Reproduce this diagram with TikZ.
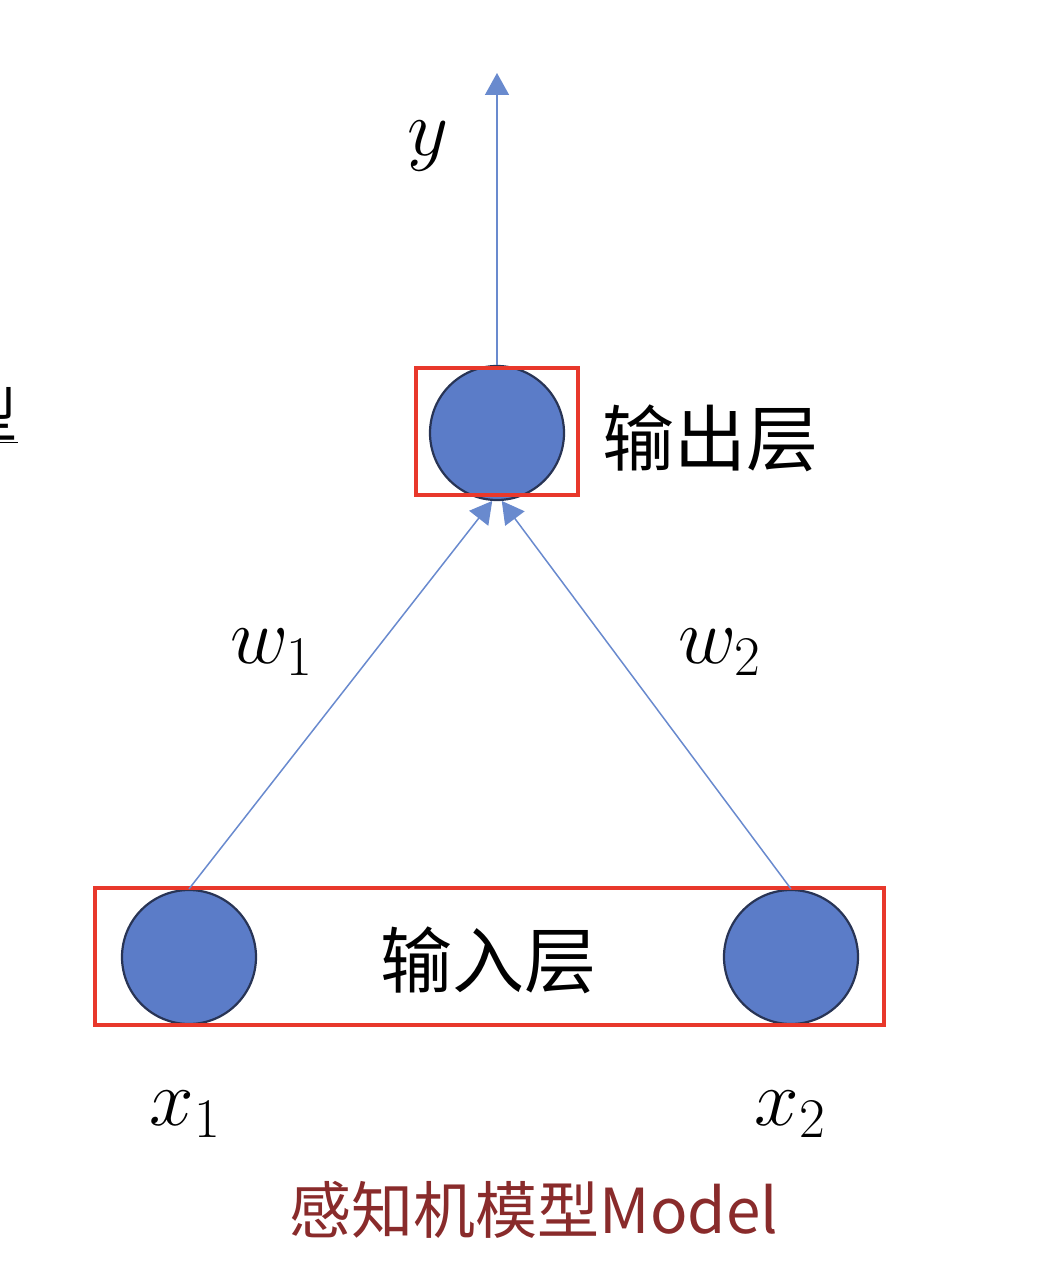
\RequirePackage{fix-cm}
\documentclass[tikz,border=0pt]{standalone}
\usepackage{fontspec}
\newfontfamily\cjk{Noto Sans CJK SC}
\usetikzlibrary{arrows.meta}
\definecolor{nodeblue}{RGB}{91,124,200}
\definecolor{nodeedge}{RGB}{40,52,85}
\definecolor{boxred}{RGB}{232,56,43}
\definecolor{linkblue}{RGB}{105,138,206}
\definecolor{titlered}{RGB}{137,43,43}
\begin{document}
\begin{tikzpicture}[x=1pt,y=-1pt,
  neuron/.style={circle,fill=nodeblue,draw=nodeedge,line width=2.2pt,minimum size=134pt,inner sep=0pt},
  layerbox/.style={draw=boxred,line width=3.2pt,inner sep=0pt},
  link/.style={draw=linkblue,line width=1.5pt,-{Triangle[length=22pt,width=24pt]}},
  cjklabel/.style={font=\cjk\fontsize{72}{78}\selectfont},
  mathlabel/.style={font=\fontsize{80}{90}\selectfont}]
\useasboundingbox (0,0) rectangle (1038,1268);
\node[neuron] (out) at (497,433) {};
\node[neuron] (in1) at (189,957) {};
\node[neuron] (in2) at (791,957) {};
\node[layerbox,minimum width=162pt,minimum height=127pt] (outbox) at (497,431.5) {};
\node[layerbox,minimum width=789pt,minimum height=137pt] (inbox) at (489.5,956.5) {};
\coordinate (ytip) at (497,73);
\draw[link] (out.north) -- (ytip);
\draw[link] (in1.north) -- (out.266);
\draw[link] (in2.north) -- (out.274);
\node[cjklabel] (outlab) at (710,438) {输出层};
\node[cjklabel] (inlab) at (488,960) {输入层};
\node[mathlabel] (ylab) at (428,146) {$y$};
\node[mathlabel] (w1) at (272,652) {$w_1$};
\node[mathlabel] (w2) at (720,652) {$w_2$};
\node[mathlabel] (x1) at (185,1114) {$x_1$};
\node[mathlabel] (x2) at (790,1114) {$x_2$};
\node[font=\cjk\fontsize{62}{68}\selectfont,text=titlered] (title) at (534,1210) {感知机模型Model};
\node[font=\cjk\fontsize{60}{66}\selectfont,anchor=east,inner sep=0pt] (cut) at (18,415) {\underline{型}};
\end{tikzpicture}
\end{document}
